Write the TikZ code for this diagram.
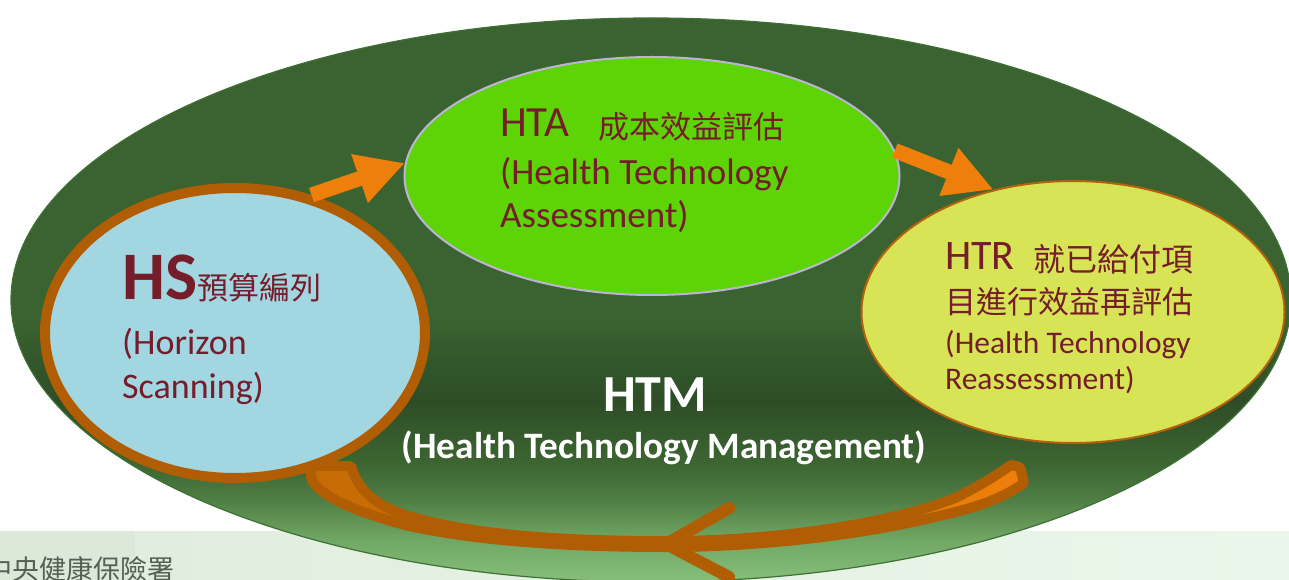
\documentclass[tikz,border=0pt]{standalone}
\usepackage{fontspec}
\setmainfont{Carlito}
\newfontfamily\cjkfont{Noto Sans CJK TC}
\usetikzlibrary{arrows.meta,shapes.geometric}

\definecolor{htmtop}{HTML}{3B6331}
\definecolor{htmdeep}{HTML}{33582C}
\definecolor{htmband}{HTML}{2E4D27}
\definecolor{htmmid}{HTML}{3D6632}
\definecolor{htmlow}{HTML}{4F7E44}
\definecolor{htmsoft}{HTML}{72A865}
\definecolor{htmlight}{HTML}{86BE7A}
\definecolor{htmedge}{HTML}{3F7034}
\definecolor{ink}{HTML}{761D2B}
\definecolor{loopbrown}{HTML}{B15D04}
\definecolor{loopinner}{HTML}{C66B06}
\definecolor{flow}{HTML}{EE7F0A}
\definecolor{hsblue}{HTML}{A2D7E2}
\definecolor{htagreen}{HTML}{5DD405}
\definecolor{htaline}{HTML}{BDB3D6}
\definecolor{htryellow}{HTML}{D6E455}
\definecolor{htrline}{HTML}{B5600C}
\definecolor{panelL}{HTML}{DCE9D9}
\definecolor{panelA}{HTML}{E1EEDF}
\definecolor{panelB}{HTML}{E9F6E9}
\definecolor{footgray}{HTML}{555F55}

% vertical colour ramp of the management ellipse (25bp = bottom, 75bp = top)
\pgfdeclareverticalshading{htmshade}{100bp}{%
  color(0bp)=(htmlight); color(25bp)=(htmlight); color(28.7bp)=(htmsoft);
  color(32.3bp)=(htmlow); color(35.4bp)=(htmmid); color(41bp)=(htmband);
  color(45bp)=(htmdeep); color(48.5bp)=(htmtop); color(100bp)=(htmtop)}

\tikzset{
  phase/.style={ellipse, inner sep=0pt},
  txt/.style={anchor=base west, inner sep=0pt, text=ink},
  htmtxt/.style={anchor=base, inner sep=0pt, text=white},
  blockarrow/.style={draw=flow, line width=15bp, line cap=butt,
    -{Triangle[length=48bp,width=48bp]}},
}

\begin{document}
\begin{tikzpicture}[x=1bp,y=-1bp]
\useasboundingbox (0,0) rectangle (1289,580);
\clip (0,0) rectangle (1289,580);

% footer band
\fill[panelL] (0,531) rectangle (135,580);
\shade[left color=panelA,right color=panelB] (135,531) rectangle (1289,580);
\node[anchor=base west, inner sep=0pt, text=footgray,
      font=\cjkfont\fontsize{27bp}{27bp}\selectfont] (agency) at (-15,579) {中央健康保險署};

% management ellipse
\node[phase, shade, shading=htmshade, draw=htmedge, line width=1.2bp,
      minimum width=1280bp, minimum height=564bp] (htm) at (651,300) {};

% the three phases
\node[phase, fill=hsblue, draw=loopbrown, line width=10bp,
      minimum width=380bp, minimum height=290bp] (hs) at (235,333) {};
\node[phase, fill=htagreen, draw=htaline, line width=2bp,
      minimum width=495bp, minimum height=238bp] (hta) at (652,176) {};
\node[phase, fill=htryellow, draw=htrline, line width=2bp,
      minimum width=423bp, minimum height=262bp] (htr) at (1073,312) {};

% forward arrows
\draw[blockarrow] (hs.61) -- (hta.177);
\draw[blockarrow] (hta.6) -- (htr.123);

% return loop from HTR back to HS: a thin curved band with a heavy outline
\coordinate (loopM) at (666,544);
\filldraw[draw=loopbrown, line width=10bp, line join=bevel,
          left color=loopinner, right color=flow]
  (311,466) -- (351,466)
  .. controls (358,490) and (375,505) .. (405,515)
  .. controls (470,535) and (560,541) .. (666,541)
  .. controls (790,541) and (900,520) .. (955,498)
  .. controls (980,486) and (998,474) .. (1011,465)
  -- (1020,467) -- (1024,483)
  .. controls (1000,500) and (975,508) .. (930,518)
  .. controls (860,535) and (760,547) .. (666,547)
  .. controls (560,547) and (470,540) .. (405,525)
  .. controls (350,510) and (318,495) .. (311,478) -- cycle;
% direction mark
\draw[loopbrown, line width=12bp, line cap=round, line join=miter]
  (729,508) -- (loopM) -- (729,577);

% HS text
\node[txt, font=\fontsize{68bp}{68bp}\selectfont\bfseries] (hsabbr) at (122,300) {HS};
\node[txt, font=\cjkfont\fontsize{31bp}{31bp}\selectfont] (hsname) at (hsabbr.base east) {預算編列};
\node[txt, font=\fontsize{36bp}{36bp}\selectfont] (hsen1) at (122,355) {(Horizon};
\node[txt, font=\fontsize{36bp}{36bp}\selectfont] (hsen2) at (122,398) {Scanning)};

% HTA text
\node[txt, font=\fontsize{43bp}{43bp}\selectfont] (htaabbr) at (500,137) {HTA};
\node[txt, font=\cjkfont\fontsize{31bp}{31bp}\selectfont] (htaname) at (598,139) {成本效益評估};
\node[txt, font=\fontsize{37bp}{37bp}\selectfont] (htaen1) at (500,185) {(Health Technology};
\node[txt, font=\fontsize{37bp}{37bp}\selectfont] (htaen2) at (500,228) {Assessment)};

% HTR text
\node[txt, font=\fontsize{42bp}{42bp}\selectfont] (htrabbr) at (945,270) {HTR};
\node[txt, font=\cjkfont\fontsize{32bp}{32bp}\selectfont] (htrname1) at (1033,272) {就已給付項};
\node[txt, font=\cjkfont\fontsize{31bp}{31bp}\selectfont] (htrname2) at (945,314) {目進行效益再評估};
\node[txt, font=\fontsize{31.5bp}{31.5bp}\selectfont] (htren1) at (945,354) {(Health Technology};
\node[txt, font=\fontsize{31.5bp}{31.5bp}\selectfont] (htren2) at (945,389) {Reassessment)};

% HTM text
\node[htmtxt, font=\fontsize{52bp}{52bp}\selectfont\bfseries] (htmabbr) at (655,411) {HTM};
\node[htmtxt, font=\fontsize{37.3bp}{37.3bp}\selectfont\bfseries] (htmfull) at (664,458) {(Health Technology Management)};
\end{tikzpicture}
\end{document}
